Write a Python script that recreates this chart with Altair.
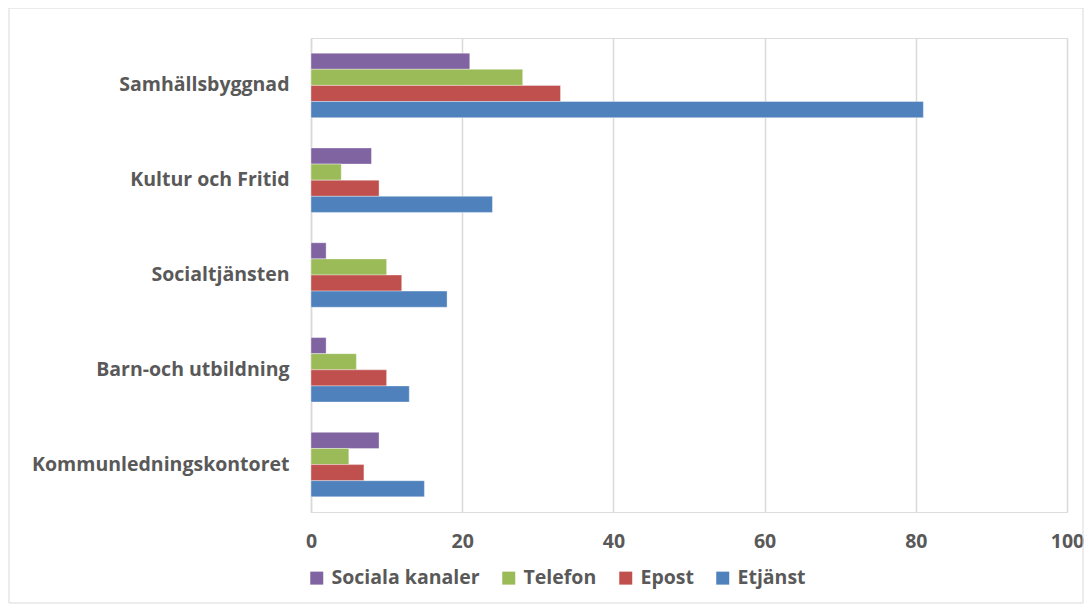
import altair as alt
import pandas as pd

categories = ["Samhällsbyggnad", "Kultur och Fritid", "Socialtjänsten",
              "Barn-och utbildning", "Kommunledningskontoret"]
series = ["Sociala kanaler", "Telefon", "Epost", "Etjänst"]
colors = ["#8064A2", "#9BBB59", "#C0504D", "#4F81BD"]

sociala = [21, 8, 2, 2, 9]
telefon = [28, 4, 10, 6, 5]
epost = [33, 9, 12, 10, 7]
etjanst = [81, 24, 18, 13, 15]

x_ticks = [0, 20, 40, 60, 80, 100]

rows = []
for s, vals in zip(series, [sociala, telefon, epost, etjanst]):
    for c, v in zip(categories, vals):
        rows.append({"Kategori": c, "Kanal": s, "Antal": v})
df = pd.DataFrame(rows)

FONT = "Open Sans"
TXT = "#595959"

bars = alt.Chart(df).mark_bar(stroke="white", strokeWidth=0.6, strokeOpacity=0.6).encode(
    x=alt.X("Antal:Q",
            scale=alt.Scale(domain=[0, 100], nice=False),
            axis=alt.Axis(values=x_ticks, title=None, grid=True, gridColor="#D9D9D9",
                          gridWidth=1.5, domain=False, ticks=False, labelFlush=False,
                          labelFont=FONT, labelFontSize=19.5, labelFontWeight="bold",
                          labelColor=TXT, labelPadding=20)),
    y=alt.Y("Kategori:N", sort=categories,
            scale=alt.Scale(paddingInner=0.32, paddingOuter=0.16),
            axis=alt.Axis(title=None, domain=True, domainColor="#D9D9D9", domainWidth=1.5,
                          ticks=False, labelFont=FONT, labelFontSize=19.5,
                          labelFontWeight="bold", labelColor=TXT, labelPadding=22,
                          labelLimit=400)),
    yOffset=alt.YOffset("Kanal:N", sort=series, scale=alt.Scale(paddingInner=0, paddingOuter=0)),
    color=alt.Color("Kanal:N", sort=series,
                    scale=alt.Scale(domain=series, range=colors),
                    legend=alt.Legend(title=None, orient="none", direction="horizontal",
                                      legendX=-4, legendY=530,
                                      symbolType="square", symbolSize=169,
                                      symbolStrokeWidth=0,
                                      labelFont=FONT, labelFontSize=19.5,
                                      labelFontWeight="bold", labelColor=TXT,
                                      labelOffset=5, columnPadding=19,
                                      labelLimit=300)),
)

frame = alt.Chart(alt.Data(values=[{"a": 1}])).mark_rect(
    fill="white", fillOpacity=0, stroke="#D9D9D9", strokeWidth=1
).encode(
    x=alt.value(-302), x2=alt.value(772), y=alt.value(-30), y2=alt.value(565)
)

chart = alt.layer(frame, bars).properties(
    width=756, height=474,
    autosize=alt.AutoSizeParams(type="none"),
    padding={"left": 303, "top": 30, "right": 17, "bottom": 92},
).configure_view(stroke=None).configure(background="white")

chart.save("out.html", embed_options={"renderer": "svg", "actions": False})
